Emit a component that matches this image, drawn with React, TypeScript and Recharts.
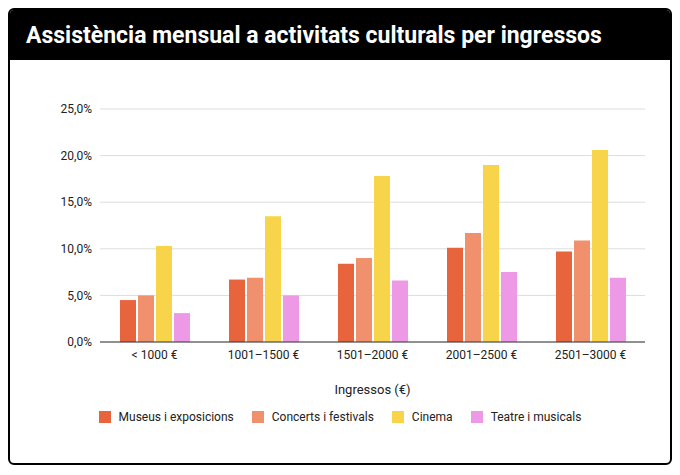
import { BarChart, Bar, XAxis, YAxis, CartesianGrid } from 'recharts'

const categories = ['< 1000 €', '1001–1500 €', '1501–2000 €', '2001–2500 €', '2501–3000 €']
const museus = [4.5, 6.7, 8.4, 10.1, 9.7]
const concerts = [5.0, 6.9, 9.0, 11.7, 10.9]
const cinema = [10.3, 13.5, 17.8, 19.0, 20.6]
const teatre = [3.1, 5.0, 6.6, 7.5, 6.9]
const yTicks = [0, 5, 10, 15, 20, 25]

const series = [
  { key: 'Museus i exposicions', color: '#E8643C' },
  { key: 'Concerts i festivals', color: '#F0906C' },
  { key: 'Cinema', color: '#F7D44A' },
  { key: 'Teatre i musicals', color: '#EE99E6' },
]

const data = categories.map((c, i) => ({
  c,
  'Museus i exposicions': museus[i],
  'Concerts i festivals': concerts[i],
  Cinema: cinema[i],
  'Teatre i musicals': teatre[i],
}))

const fmt = (v: number) => `${v.toFixed(1).replace('.', ',')}%`
const font = 'Roboto, "Noto Sans", sans-serif'

export default function App() {
  return (
    <div style={{ width: 660, height: 453, border: '2px solid #000', borderRadius: 6, overflow: 'hidden', fontFamily: font, background: '#fff' }}>
      <div style={{ background: '#000', color: '#fff', height: 50, display: 'flex', alignItems: 'center', paddingLeft: 16, fontSize: 23, fontWeight: 700 }}>
        Assistència mensual a activitats culturals per ingressos
      </div>
      <BarChart width={660} height={340} data={data} margin={{ top: 49, right: 25, left: 0, bottom: 0 }} barGap={2}>
        <CartesianGrid vertical={false} stroke="#dddddd" />
        <XAxis dataKey="c" tickLine={false} axisLine={{ stroke: '#333' }} tick={{ fill: '#222', fontSize: 12 }} height={58}
          label={{ value: 'Ingressos (€)', position: 'insideBottom', offset: 6, fill: '#222', fontSize: 13 }} />
        <YAxis domain={[0, 25]} ticks={yTicks} tickFormatter={fmt} width={90} axisLine={false} tickLine={false} tick={{ fill: '#222', fontSize: 12 }} />
        {series.map((s) => (
          <Bar key={s.key} dataKey={s.key} fill={s.color} barSize={16} isAnimationActive={false} />
        ))}
      </BarChart>
      <div style={{ display: 'flex', justifyContent: 'center', gap: 18, marginTop: 10, fontSize: 12, color: '#222' }}>
        {series.map((s) => (
          <div key={s.key} style={{ display: 'flex', alignItems: 'center', gap: 8 }}>
            <span style={{ width: 12, height: 12, background: s.color, display: 'inline-block' }} />
            {s.key}
          </div>
        ))}
      </div>
    </div>
  )
}
